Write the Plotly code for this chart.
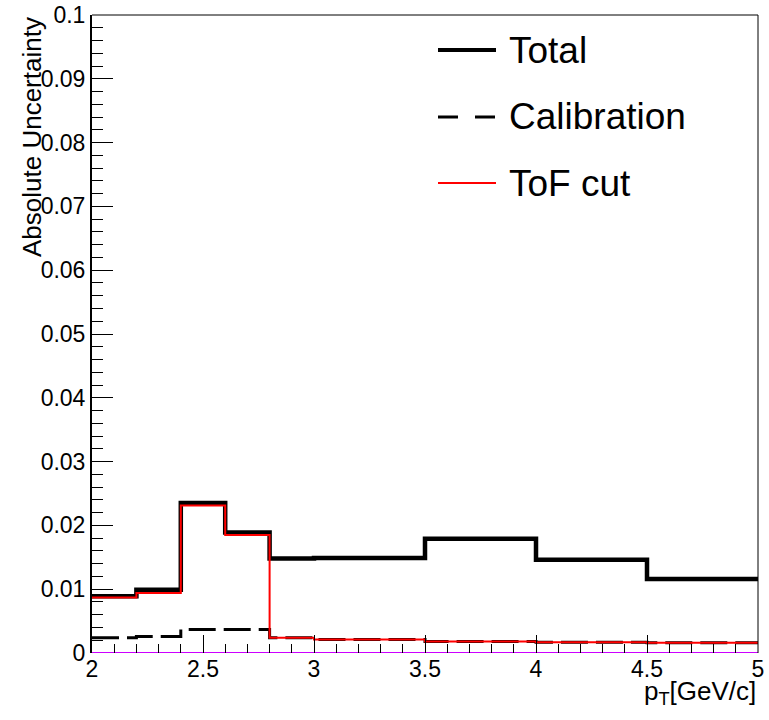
import plotly.graph_objects as go

# ---- data ----
bin_edges = [2.0, 2.2, 2.4, 2.6, 2.8, 3.0, 3.5, 4.0, 4.5, 5.0]
total = [0.0089, 0.0099, 0.0235, 0.0189, 0.0148, 0.0149, 0.0179, 0.0146, 0.0116]
calibration = [0.0024, 0.0026, 0.0037, 0.0037, 0.0024, 0.0021, 0.0018, 0.0017, 0.0016]
tof_cut = [0.0087, 0.0094, 0.0231, 0.0185, 0.0024, 0.0021, 0.0018, 0.0017, 0.0016]
baseline = [0, 0, 0, 0, 0, 0, 0, 0, 0]
legend_labels = ["Total", "Calibration", "ToF cut"]

FONT = "Liberation Sans, Arial, Helvetica, sans-serif"


def step(vals):
    return bin_edges, list(vals) + [vals[-1]]


fig = go.Figure()
for vals, color, width, dash in [
    (total, "black", 4.5, "solid"),
    (calibration, "black", 3, "27px,8px"),
    (tof_cut, "#ff0000", 2, "solid"),
    (baseline, "#cc00ff", 2, "solid"),
]:
    x, y = step(vals)
    fig.add_trace(go.Scatter(x=x, y=y, mode="lines", line_shape="hv",
                             line=dict(color=color, width=width, dash=dash),
                             showlegend=False, hoverinfo="skip", cliponaxis=False))

W, H = 769, 720
L, R, T, B = 92, 11, 15, 67
pw, ph = W - L - R, H - T - B


def px_x(p):
    return (p - L) / pw


def px_y(p):
    return (H - B - p) / ph


# frame: top and right edges (left is the y axis line, bottom is covered by the zero line)
shapes = [
    dict(type="line", xref="paper", yref="paper", x0=0, y0=1, x1=1, y1=1,
         line=dict(color="black", width=1), layer="above"),
    dict(type="line", xref="paper", yref="paper", x0=1, y0=0, x1=1, y1=1,
         line=dict(color="black", width=1), layer="above"),
]
annotations = []

# manual legend
leg_rows = [50, 117, 183]
leg_styles = [("black", 4, "solid"), ("black", 3, "20px,17px"), ("#ff0000", 2, "solid")]
for lab, row, (c, w, d) in zip(legend_labels, leg_rows, leg_styles):
    shapes.append(dict(type="line", xref="paper", yref="paper",
                       x0=px_x(438), x1=px_x(496), y0=px_y(row), y1=px_y(row),
                       line=dict(color=c, width=w, dash=d)))
    annotations.append(dict(text=lab, xref="paper", yref="paper", x=px_x(507), y=px_y(row),
                            xanchor="left", yanchor="middle", showarrow=False,
                            font=dict(family=FONT, size=37, color="black")))

# axis titles
annotations.append(dict(text="Absolute Uncertainty", xref="paper", yref="paper",
                        x=px_x(15), y=1, xanchor="left", yanchor="top", textangle=-90,
                        showarrow=False, font=dict(family=FONT, size=26, color="black")))
annotations.append(dict(text="p<sub>T</sub>[GeV/c]", xref="paper", yref="paper",
                        x=1, y=px_y(674), xanchor="right", yanchor="top",
                        showarrow=False, font=dict(family=FONT, size=26, color="black")))

fig.update_layout(
    width=W, height=H,
    margin=dict(l=L, r=R, t=T, b=B, autoexpand=False),
    paper_bgcolor="white", plot_bgcolor="white",
    font=dict(family=FONT, size=23, color="black"),
    shapes=shapes, annotations=annotations,
)
fig.update_xaxes(range=[2, 5], dtick=0.5, tick0=2, ticks="inside", ticklen=18, tickwidth=1,
                 tickcolor="black", showgrid=False, zeroline=False, showline=False,
                 automargin=False, ticklabeloverflow="allow",
                 tickfont=dict(family=FONT, size=23, color="black"),
                 minor=dict(dtick=0.1, ticks="inside", ticklen=9, tickwidth=1,
                            tickcolor="black", showgrid=False))
fig.update_yaxes(range=[0, 0.1], dtick=0.01, tick0=0, ticks="inside", ticklen=21, tickwidth=1,
                 tickcolor="black", showgrid=False, zeroline=False, automargin=False,
                 ticklabeloverflow="allow",
                 showline=True, linecolor="black", linewidth=2, mirror=False,
                 tickfont=dict(family=FONT, size=23, color="black"),
                 minor=dict(dtick=0.002, ticks="inside", ticklen=11, tickwidth=1,
                            tickcolor="black", showgrid=False))

fig.write_html("out.html", config={"displayModeBar": False},
               post_script="document.body.style.margin='0';document.body.style.overflow='hidden';")
